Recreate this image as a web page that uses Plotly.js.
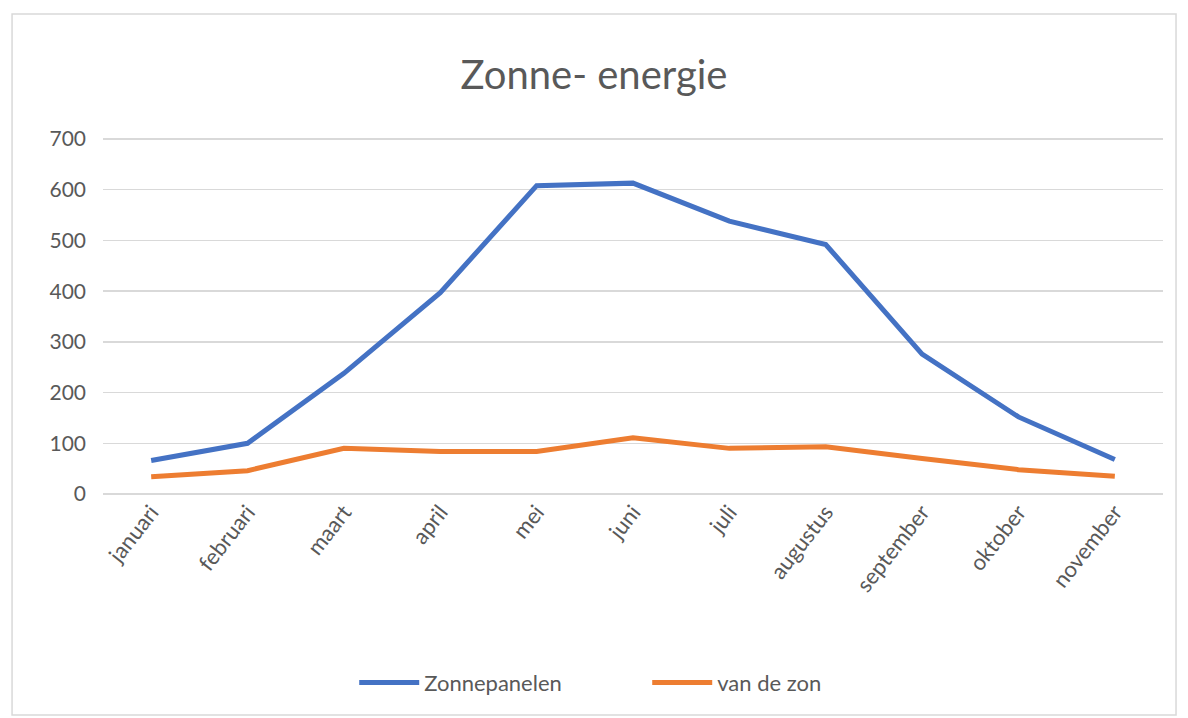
<!DOCTYPE html>
<html>
<head>
<meta charset="utf-8">
<script src="https://cdn.plot.ly/plotly-3.0.1.min.js"></script>
<style>
html,body{margin:0;padding:0;background:#fff;}
#chart{width:1188px;height:718px;}
</style>
</head>
<body>
<div id="chart"></div>
<script>
const months = ["januari","februari","maart","april","mei","juni","juli","augustus","september","oktober","november"];
const zonnepanelen = [66, 100, 238, 397, 608, 613, 538, 492, 276, 152, 68];
const vanDeZon = [34, 46, 90, 84, 84, 111, 90, 93, 70, 48, 35];
const yTicks = [0, 100, 200, 300, 400, 500, 600, 700];

const FONT = "Lato, 'Open Sans', sans-serif";
const GRAY = "#595959";

const traces = [
  {x: months, y: zonnepanelen, name: "Zonnepanelen", type: "scatter", mode: "lines",
   line: {color: "#4472C4", width: 5}},
  {x: months, y: vanDeZon, name: "van de zon", type: "scatter", mode: "lines",
   line: {color: "#ED7D31", width: 5}}
];

const layout = {
  width: 1188, height: 718,
  paper_bgcolor: "#fff", plot_bgcolor: "#fff",
  margin: {l: 103, r: 25, t: 138, b: 224},
  font: {family: FONT, color: GRAY, size: 20},
  title: {text: "Zonne- energie", font: {family: FONT, size: 40, color: GRAY},
          x: 0.5, xanchor: "center", y: 0.895, yanchor: "middle"},
  xaxis: {type: "category", range: [-0.5, months.length - 0.5], tickangle: -52,
          showgrid: false, zeroline: false, showline: false, ticks: "",
          tickfont: {family: FONT, size: 22, color: GRAY}},
  yaxis: {range: [0, 702], tickvals: yTicks, ticktext: yTicks.map(String),
          showgrid: true, gridcolor: "#D9D9D9", gridwidth: 1.5,
          zeroline: true, zerolinecolor: "#D9D9D9", zerolinewidth: 1.5,
          showline: false, ticks: "", ticklen: 0, ticklabelstandoff: 16,
          tickfont: {family: FONT, size: 21, color: GRAY}},
  showlegend: true,
  legend: {orientation: "h", x: 0.237, xanchor: "left", y: -0.53, yanchor: "middle",
           font: {family: FONT, size: 22, color: GRAY}, itemwidth: 60,
           entrywidth: 218, entrywidthmode: "pixels"},
  shapes: [{type: "rect", xref: "paper", yref: "paper",
            x0: -0.0858, x1: 1.0123, y0: -0.621, y1: 1.348,
            line: {color: "#D9D9D9", width: 1.5}, fillcolor: "rgba(0,0,0,0)", layer: "below"}]
};

Plotly.newPlot("chart", traces, layout, {displayModeBar: false, staticPlot: true});
</script>
</body>
</html>
